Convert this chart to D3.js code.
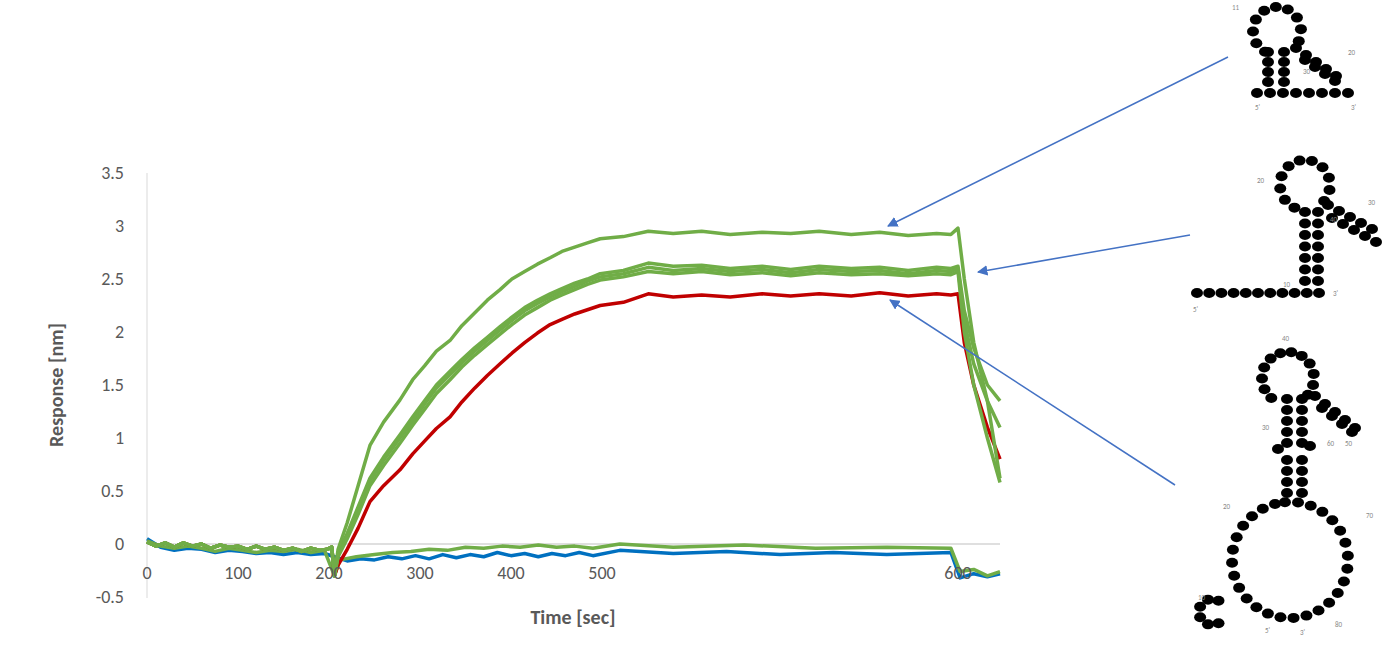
<!DOCTYPE html>
<html><head><meta charset="utf-8">
<script src="https://cdn.jsdelivr.net/npm/d3@7"></script>
<style>body{margin:0;background:#fff}text{font-family:Calibri,"Liberation Sans",Arial,sans-serif}</style>
</head><body>
<svg width="1392" height="660"></svg>
<script>
// time ticks and response ticks
var xTicks = [0, 100, 200, 300, 400, 500, 600];
var yTicks = [-0.5, 0, 0.5, 1, 1.5, 2, 2.5, 3, 3.5];

// sensorgram traces, [time, response]
var pre = [[0,0.02],[10,-0.02],[20,0.01],[30,-0.03],[40,0.01],[50,-0.02],[60,0],[70,-0.04],[80,-0.01],[90,-0.03],[100,-0.02],[110,-0.05],[120,-0.02],[130,-0.05],[140,-0.03],[150,-0.06],[160,-0.04],[170,-0.07],[180,-0.04],[190,-0.06],[198,-0.05],[203,-0.03],[206,-0.3]];
var greenTop = pre.concat([[210,-0.05],[220,0.2],[232,0.55],[245,0.93],[260,1.15],[278,1.36],[292,1.55],[305,1.68],[318,1.82],[333,1.92],[346,2.06],[360,2.18],[374,2.3],[388,2.4],[401,2.5],[415,2.57],[429,2.64],[443,2.7],[456,2.76],[470,2.8],[484,2.84],[498,2.88],[506,2.9],[513,2.95],[520,2.93],[528,2.95],[536,2.92],[545,2.94],[553,2.93],[561,2.95],[570,2.92],[578,2.94],[586,2.91],[594,2.93],[598,2.92],[600,2.98],[606,2.5],[615,1.9],[628,1.35],[640,0.62]]);
var green2 = pre.concat([[210,-0.08],[220,0.1],[232,0.35],[245,0.62],[260,0.82],[278,1.03],[292,1.2],[305,1.35],[318,1.5],[333,1.63],[346,1.74],[360,1.85],[374,1.95],[388,2.05],[401,2.14],[415,2.23],[429,2.3],[443,2.36],[456,2.41],[470,2.46],[484,2.5],[498,2.55],[506,2.58],[513,2.65],[520,2.62],[528,2.63],[536,2.6],[545,2.62],[553,2.59],[561,2.62],[570,2.6],[578,2.61],[586,2.58],[594,2.61],[598,2.6],[600,2.62],[606,2.2],[615,1.85],[628,1.5],[640,1.35]]);
var green3 = pre.concat([[210,-0.1],[220,0.08],[232,0.32],[245,0.6],[260,0.79],[278,1.0],[292,1.16],[305,1.32],[318,1.47],[333,1.6],[346,1.71],[360,1.82],[374,1.92],[388,2.02],[401,2.11],[415,2.2],[429,2.27],[443,2.33],[456,2.38],[470,2.43],[484,2.48],[498,2.52],[506,2.55],[513,2.61],[520,2.58],[528,2.6],[536,2.57],[545,2.59],[553,2.56],[561,2.59],[570,2.57],[578,2.58],[586,2.55],[594,2.58],[598,2.57],[600,2.6],[606,2.1],[615,1.7],[628,1.35],[640,1.1]]);
var green4 = pre.concat([[210,-0.12],[220,0.05],[232,0.28],[245,0.55],[260,0.74],[278,0.95],[292,1.12],[305,1.27],[318,1.42],[333,1.55],[346,1.67],[360,1.78],[374,1.88],[388,1.98],[401,2.07],[415,2.16],[429,2.23],[443,2.3],[456,2.35],[470,2.4],[484,2.45],[498,2.49],[506,2.52],[513,2.57],[520,2.55],[528,2.57],[536,2.54],[545,2.56],[553,2.53],[561,2.56],[570,2.54],[578,2.55],[586,2.53],[594,2.55],[598,2.54],[600,2.57],[606,2.0],[615,1.5],[628,1.0],[640,0.58]]);
var red = pre.concat([[210,-0.2],[220,-0.05],[232,0.15],[245,0.4],[260,0.55],[278,0.7],[292,0.85],[305,0.97],[318,1.09],[333,1.2],[346,1.34],[360,1.47],[374,1.59],[388,1.7],[401,1.8],[415,1.9],[429,1.99],[443,2.07],[456,2.12],[470,2.17],[484,2.21],[498,2.25],[506,2.28],[513,2.36],[520,2.33],[528,2.35],[536,2.33],[545,2.36],[553,2.34],[561,2.36],[570,2.34],[578,2.37],[586,2.34],[594,2.36],[598,2.35],[600,2.36],[606,1.9],[615,1.5],[628,1.1],[640,0.8]]);
var blue = [[0,0.05],[15,-0.03],[30,-0.06],[45,-0.04],[60,-0.05],[75,-0.08],[90,-0.06],[105,-0.07],[120,-0.09],[135,-0.08],[150,-0.1],[165,-0.08],[180,-0.1],[195,-0.09],[206,-0.12],[220,-0.16],[235,-0.14],[250,-0.15],[265,-0.12],[280,-0.14],[295,-0.11],[310,-0.14],[325,-0.1],[340,-0.13],[355,-0.1],[370,-0.12],[385,-0.08],[400,-0.11],[415,-0.09],[430,-0.12],[445,-0.09],[460,-0.11],[475,-0.08],[490,-0.11],[505,-0.06],[520,-0.09],[535,-0.07],[550,-0.1],[565,-0.08],[580,-0.1],[598,-0.08],[602,-0.32],[615,-0.28],[628,-0.31],[640,-0.28]];
var greenLow = [[0,0.03],[15,-0.02],[30,-0.04],[45,-0.02],[60,-0.04],[75,-0.07],[90,-0.04],[105,-0.06],[120,-0.08],[135,-0.06],[150,-0.07],[165,-0.05],[180,-0.08],[195,-0.06],[206,-0.3],[212,-0.15],[230,-0.12],[250,-0.1],[270,-0.08],[290,-0.07],[310,-0.05],[330,-0.06],[350,-0.03],[370,-0.04],[390,-0.02],[410,-0.03],[430,-0.01],[450,-0.03],[470,-0.02],[490,-0.04],[505,0],[520,-0.03],[540,-0.01],[560,-0.04],[580,-0.03],[598,-0.04],[602,-0.26],[615,-0.24],[628,-0.3],[640,-0.26]];

var series = [
  {d: blue, c: "#0070c0"},
  {d: greenLow, c: "#70ad47"},
  {d: red, c: "#c00000"},
  {d: green2, c: "#70ad47"},
  {d: green3, c: "#70ad47"},
  {d: green4, c: "#70ad47"},
  {d: greenTop, c: "#70ad47"}
];

var svg = d3.select("svg");
var x = d3.scaleLinear().domain([0, 500, 600, 640]).range([147, 602, 958, 1000]);
var y = d3.scaleLinear().domain([-0.5, 3.5]).range([597, 173]);

svg.append("line").attr("x1", 147).attr("x2", 147).attr("y1", 173).attr("y2", 598).attr("stroke", "#d9d9d9");
svg.append("line").attr("x1", 147).attr("x2", 1000).attr("y1", y(0)).attr("y2", y(0)).attr("stroke", "#bfbfbf");

var line = d3.line().x(function(d){return x(d[0])}).y(function(d){return y(d[1])}).curve(d3.curveLinear);
series.forEach(function(s){
  svg.append("path").attr("d", line(s.d)).attr("fill", "none")
    .attr("stroke", s.c).attr("stroke-width", 3.5).attr("stroke-linejoin", "round");
});

svg.selectAll(".yt").data(yTicks).enter().append("text")
  .attr("x", 124).attr("y", function(d){return y(d) + 6})
  .attr("text-anchor", "end").attr("font-size", 18).attr("fill", "#595959")
  .text(function(d){return d});
svg.selectAll(".xt").data(xTicks).enter().append("text")
  .attr("x", function(d){return x(d)}).attr("y", y(0) + 35)
  .attr("text-anchor", "middle").attr("font-size", 18).attr("fill", "#595959")
  .text(function(d){return d});

svg.append("text").attr("transform", "translate(63,385) rotate(-90)")
  .attr("text-anchor", "middle").attr("font-size", 20).attr("font-weight", "bold").attr("fill", "#595959")
  .text("Response [nm]");
svg.append("text").attr("x", 573).attr("y", 624)
  .attr("text-anchor", "middle").attr("font-size", 20).attr("font-weight", "bold").attr("fill", "#595959")
  .text("Time [sec]");

// arrows
svg.append("defs").append("marker").attr("id", "ah").attr("viewBox", "0 0 10 10")
  .attr("refX", 9).attr("refY", 5).attr("markerWidth", 7).attr("markerHeight", 7).attr("orient", "auto")
  .append("path").attr("d", "M0,0L10,5L0,10z").attr("fill", "#4472c4");
var arrows = [[1228,57,888,226],[1190,235,978,272],[1175,485,890,300]];
arrows.forEach(function(a){
  svg.append("line").attr("x1", a[0]).attr("y1", a[1]).attr("x2", a[2]).attr("y2", a[3])
    .attr("stroke", "#4472c4").attr("stroke-width", 1.5).attr("marker-end", "url(#ah)");
});

// secondary structure sketches
function dot(cx, cy){
  svg.append("ellipse").attr("cx", cx).attr("cy", cy).attr("rx", 6).attr("ry", 5).attr("fill", "#000");
}
function loop(cx, cy, r, n, a0, a1){
  for (var i = 0; i < n; i++){
    var a = (a0 + (a1 - a0) * i / (n - 1)) * Math.PI / 180;
    dot(cx + r * Math.cos(a), cy + r * Math.sin(a));
  }
}
function row(x0, y0, dx, dy, n){
  for (var i = 0; i < n; i++) dot(x0 + dx * i, y0 + dy * i);
}
function lab(tx, ty, t){
  svg.append("text").attr("x", tx).attr("y", ty).attr("font-size", 7).attr("fill", "#888").text(t);
}
// top
loop(1277, 31, 24, 10, 120, 385);
row(1268, 52, 0, 10, 4); row(1284, 52, 0, 10, 4);
row(1296, 48, 10, 7, 5); row(1305, 60, 10, 7, 4);
row(1257, 93, 13, 0, 8);
lab(1232, 10, "11"); lab(1303, 74, "30"); lab(1348, 55, "20"); lab(1255, 110, "5'"); lab(1351, 110, "3'");
// middle
loop(1305, 185, 25, 11, 115, 400);
row(1305, 212, 0, 11.5, 7); row(1318, 212, 0, 11.5, 7);
row(1328, 205, 11, 6, 5); row(1332, 218, 11, 6, 5);
row(1197, 293, 12.2, 0, 11);
lab(1257, 183, "20"); lab(1368, 205, "30"); lab(1330, 222, "40"); lab(1283, 287, "10"); lab(1333, 296, "3'"); lab(1193, 312, "5'");
// bottom
loop(1288, 378, 26, 12, 130, 400);
row(1287, 399, 0, 11, 5); row(1302, 399, 0, 11, 5);
row(1287, 460, 0, 11, 4); row(1302, 460, 0, 11, 4);
dot(1278, 449); dot(1310, 446);
row(1315, 396, 10, 8, 5); row(1322, 408, 10, 8, 4);
loop(1290, 560, 58, 28, -95, 255);
loop(1212, 612, 13, 6, 60, 300);
lab(1262, 430, "30"); lab(1327, 446, "60"); lab(1282, 341, "40"); lab(1345, 446, "50");
lab(1223, 509, "20"); lab(1366, 518, "70"); lab(1198, 600, "10"); lab(1335, 627, "80"); lab(1265, 633, "5'"); lab(1300, 635, "3'");
</script>
</body></html>
